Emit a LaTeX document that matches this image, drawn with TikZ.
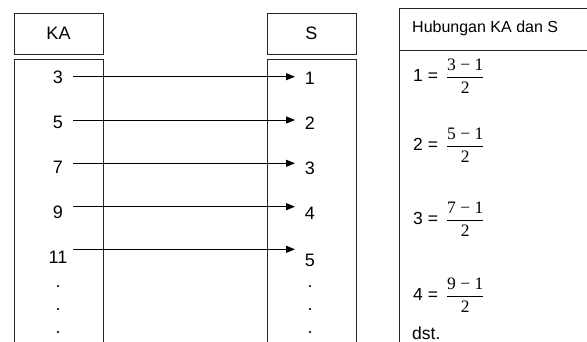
\documentclass[tikz,border=0pt]{standalone}
\usepackage{fontspec}
\setmainfont{Liberation Sans}
\newfontfamily\fracfont{Liberation Serif}
\usepackage{amsmath}
\usetikzlibrary{arrows.meta}

\newcommand{\kafrac}[1]{$\dfrac{\mbox{\fracfont #1 \textminus{} 1}}{\mbox{\fracfont 2}}$}

\begin{document}
\begin{tikzpicture}[x=1pt, y=-1pt,
  frame/.style={draw=black!85, line width=0.9pt},
  num/.style={inner sep=0pt, font=\fontsize{18}{21}\selectfont},
  arrow/.style={-{Triangle[length=9pt,width=7pt]}, line width=0.9pt},
  eq/.style={inner sep=0pt, anchor=base west, font=\fontsize{17.5}{20}\selectfont},
]
  \useasboundingbox (0,0) rectangle (587,342);
  \fill[white] (0,0) rectangle (587,342);

  \draw[frame] (14,13) rectangle (103,54);
  \draw[frame] (267,13) rectangle (356,54);
  \draw[frame] (14,342) -- (14,59) -- (103,59) -- (103,342);
  \draw[frame] (267,342) -- (267,59) -- (356,59) -- (356,342);
  \draw[frame] (587,8) -- (399,8) -- (399,342);
  \draw[frame] (399,50) -- (587,50);

  \node[num] (kahead) at (58.5,33.5) {KA};
  \node[num] (shead) at (311.5,33.5) {S};

  \node[num] (ka3) at (58,77) {3};
  \node[num] (ka5) at (58,122) {5};
  \node[num] (ka7) at (58,167) {7};
  \node[num] (ka9) at (58,212) {9};
  \node[num] (ka11) at (58,257) {11};
  \node[num] (kadot1) at (58,287) {.};
  \node[num] (kadot2) at (58,310) {.};
  \node[num] (kadot3) at (58,333) {.};

  \node[num] (s1) at (310,78) {1};
  \node[num] (s2) at (310,123) {2};
  \node[num] (s3) at (310,168) {3};
  \node[num] (s4) at (310,213) {4};
  \node[num] (s5) at (310,260) {5};
  \node[num] (sdot1) at (310,287) {.};
  \node[num] (sdot2) at (310,310) {.};
  \node[num] (sdot3) at (310,333) {.};

  \coordinate (from3) at (73,76.7);
  \coordinate (to1) at (295,76.7);
  \coordinate (from5) at (73,120);
  \coordinate (to2) at (295,120);
  \coordinate (from7) at (73,163.3);
  \coordinate (to3) at (295,163.3);
  \coordinate (from9) at (73,206.7);
  \coordinate (to4) at (295,206.7);
  \coordinate (from11) at (73,249.3);
  \coordinate (to5) at (295,249.3);
  \draw[arrow] (from3) -- (to1);
  \draw[arrow] (from5) -- (to2);
  \draw[arrow] (from7) -- (to3);
  \draw[arrow] (from9) -- (to4);
  \draw[arrow] (from11) -- (to5);

  \node[eq, font=\fontsize{16}{19}\selectfont] (relhead) at (412,32.5) {Hubungan KA dan S};
  \node[eq] (eq1) at (413,82) {1 =\hspace{8pt}\kafrac{3}};
  \node[eq] (eq2) at (413,151) {2 =\hspace{8pt}\kafrac{5}};
  \node[eq] (eq3) at (413,225) {3 =\hspace{8pt}\kafrac{7}};
  \node[eq] (eq4) at (413,301) {4 =\hspace{8pt}\kafrac{9}};
  \node[eq] (dst) at (412,339) {dst.};
\end{tikzpicture}
\end{document}
